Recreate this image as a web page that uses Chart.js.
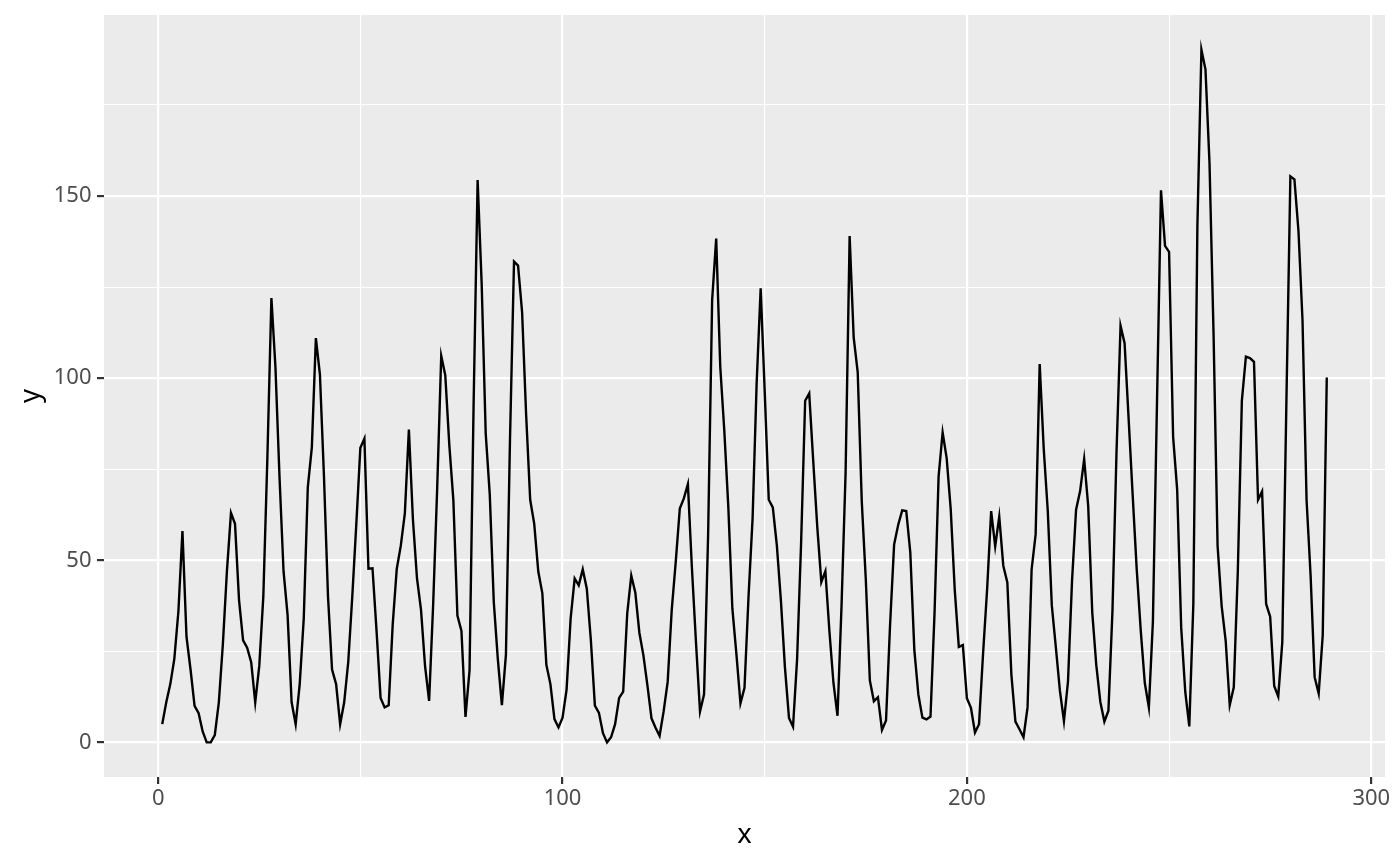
<!DOCTYPE html>
<html>
<head>
<meta charset="utf-8">
<script src="https://cdn.jsdelivr.net/npm/chart.js@4"></script>
<style>
  html, body { margin: 0; padding: 0; background: #fff; }
  #wrap { width: 1400px; height: 866px; }
</style>
</head>
<body>
<div id="wrap"><canvas id="chart" width="1400" height="866"></canvas></div>
<script>
// series: yearly values, index 1..289
var yValues = [
  5, 11, 16, 23, 36, 58, 29, 20, 10, 8,
  3, 0, 0, 2, 11, 27, 47, 63, 60, 39,
  28, 26, 22, 11, 21, 40, 78, 122, 103, 73,
  47, 35, 11, 5, 16, 34, 70, 81, 111, 101,
  73, 40, 20, 16, 5, 11, 22, 40, 60, 80.9,
  83.4, 47.7, 47.8, 30.7, 12.2, 9.6, 10.2, 32.4, 47.6, 54,
  62.9, 85.9, 61.2, 45.1, 36.4, 20.9, 11.4, 37.8, 69.8, 106.1,
  100.8, 81.6, 66.5, 34.8, 30.6, 7, 19.8, 92.5, 154.4, 125.9,
  84.8, 68.1, 38.5, 22.8, 10.2, 24.1, 82.9, 132, 130.9, 118.1,
  89.9, 66.6, 60, 46.9, 41, 21.3, 16, 6.4, 4.1, 6.8,
  14.5, 34, 45, 43.1, 47.5, 42.2, 28.1, 10.1, 8.1, 2.5,
  0, 1.4, 5, 12.2, 13.9, 35.4, 45.8, 41.1, 30.1, 23.9,
  15.6, 6.6, 4, 1.8, 8.5, 16.6, 36.3, 49.6, 64.2, 67,
  70.9, 47.8, 27.5, 8.5, 13.2, 56.9, 121.5, 138.3, 103.2, 85.7,
  64.6, 36.7, 24.2, 10.7, 15, 40.1, 61.5, 98.5, 124.7, 96.3,
  66.6, 64.5, 54.1, 39, 20.6, 6.7, 4.3, 22.7, 54.8, 93.8,
  95.8, 77.2, 59.1, 44, 47, 30.5, 16.3, 7.3, 37.6, 74,
  139, 111.2, 101.6, 66.2, 44.7, 17, 11.3, 12.4, 3.4, 6,
  32.3, 54.3, 59.7, 63.7, 63.5, 52.2, 25.4, 13.1, 6.8, 6.3,
  7.1, 35.6, 73, 85.1, 78, 64, 41.8, 26.2, 26.7, 12.1,
  9.5, 2.7, 5, 24.4, 42, 63.5, 53.8, 62, 48.5, 43.9,
  18.6, 5.7, 3.6, 1.4, 9.6, 47.4, 57.1, 103.9, 80.6, 63.6,
  37.6, 26.1, 14.2, 5.8, 16.7, 44.3, 63.9, 69, 77.8, 64.9,
  35.7, 21.2, 11.1, 5.7, 8.7, 36.1, 79.7, 114.4, 109.6, 88.8,
  67.8, 47.5, 30.6, 16.3, 9.6, 33.2, 92.6, 151.6, 136.3, 134.7,
  83.9, 69.4, 31.5, 13.9, 4.4, 38, 141.7, 190.2, 184.8, 159,
  112.3, 53.9, 37.5, 27.9, 10.2, 15.1, 47, 93.8, 105.9, 105.5,
  104.5, 66.6, 68.9, 38, 34.5, 15.5, 12.6, 27.5, 92.5, 155.4,
  154.6, 140.4, 115.9, 66.6, 45.9, 17.9, 13.4, 29.4, 100.2
];
var xValues = yValues.map(function (v, i) { return i + 1; });

// gridlines: every 50 on x (labels every 100), every 25 on y (labels every 50)
var xGrid = [0, 50, 100, 150, 200, 250, 300];
var xLabels = [0, 100, 200, 300];
var yGrid = [0, 25, 50, 75, 100, 125, 150, 175];
var yLabels = [0, 50, 100, 150];

var points = xValues.map(function (x, i) { return { x: x, y: yValues[i] }; });

// ggplot style 5% expansion
var xMin = 1, xMax = 289;
var yMin = 0, yMax = 190.2;
var xPad = (xMax - xMin) * 0.05, yPad = (yMax - yMin) * 0.05;

var fontFam = "'Noto Sans', 'DejaVu Sans', sans-serif";

function isMajor(list, v) { return list.indexOf(v) !== -1; }

// grey panel behind the plot area
var panelBg = {
	id: "panelBg",
	beforeDraw: function (chart) {
		var a = chart.chartArea, c = chart.ctx;
		c.save();
		c.fillStyle = "#EBEBEB";
		c.fillRect(a.left, a.top, a.right - a.left, a.bottom - a.top);
		c.restore();
	}
};

var chart = new Chart(document.getElementById("chart"), {
	type: "line",
	data: {
		datasets: [{
			data: points,
			borderColor: "#000000",
			borderWidth: 2.4,
			pointRadius: 0,
			tension: 0,
			fill: false
		}]
	},
	options: {
		responsive: false,
		animation: false,
		layout: { padding: { top: 15, right: 15, left: 0, bottom: 0 } },
		plugins: { legend: { display: false }, tooltip: { enabled: false } },
		scales: {
			x: {
				type: "linear",
				min: xMin - xPad,
				max: xMax + xPad,
				afterBuildTicks: function (s) { s.ticks = xGrid.map(function (v) { return { value: v }; }); },
				afterFit: function (s) { s.height = 89; s.paddingLeft = 0; s.paddingRight = 0; },
				border: { display: false },
				grid: {
					color: "#FFFFFF",
					lineWidth: function (c) { return isMajor(xLabels, c.tick.value) ? 2.2 : 1.1; },
					tickColor: function (c) { return isMajor(xLabels, c.tick.value) ? "#333333" : "rgba(0,0,0,0)"; },
					tickWidth: 2.2,
					tickLength: 7
				},
				ticks: {
					autoSkip: false,
					maxRotation: 0,
					padding: 2,
					color: "#4D4D4D",
					font: { family: fontFam, size: 22 },
					callback: function (v) { return isMajor(xLabels, v) ? String(v) : ""; }
				},
				title: {
					display: true,
					text: "x",
					color: "#000000",
					font: { family: fontFam, size: 27.5 },
					padding: { top: 0, bottom: 14 }
				}
			},
			y: {
				type: "linear",
				min: yMin - yPad,
				max: yMax + yPad,
				afterBuildTicks: function (s) { s.ticks = yGrid.map(function (v) { return { value: v }; }); },
				afterFit: function (s) { s.width = 104; s.paddingTop = 0; s.paddingBottom = 0; },
				border: { display: false },
				grid: {
					color: "#FFFFFF",
					lineWidth: function (c) { return isMajor(yLabels, c.tick.value) ? 2.2 : 1.1; },
					tickColor: function (c) { return isMajor(yLabels, c.tick.value) ? "#333333" : "rgba(0,0,0,0)"; },
					tickWidth: 2.2,
					tickLength: 7
				},
				ticks: {
					autoSkip: false,
					padding: 5.5,
					color: "#4D4D4D",
					font: { family: fontFam, size: 22 },
					callback: function (v) { return isMajor(yLabels, v) ? String(v) : ""; }
				},
				title: {
					display: true,
					text: "y",
					color: "#000000",
					font: { family: fontFam, size: 27.5 },
					padding: { top: 15, bottom: 0 }
				}
			}
		}
	},
	plugins: [panelBg]
});
</script>
</body>
</html>
